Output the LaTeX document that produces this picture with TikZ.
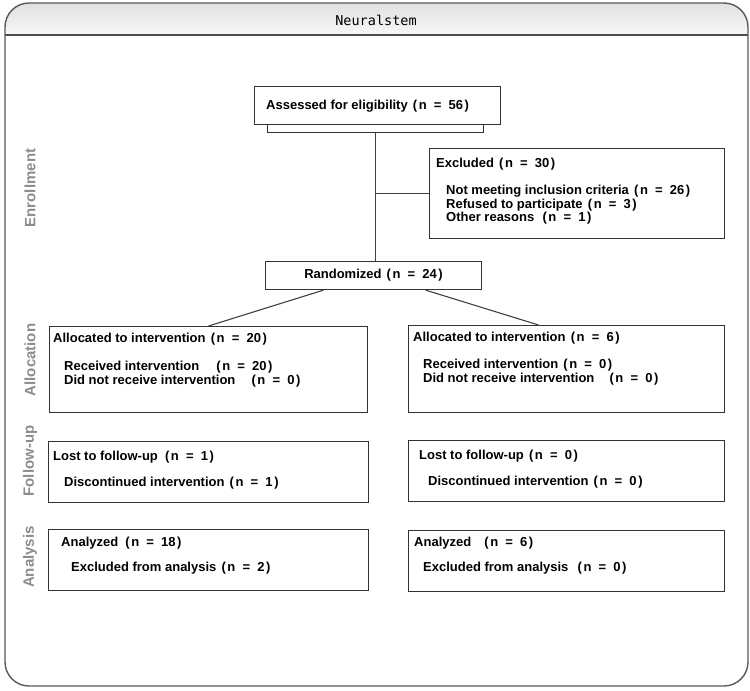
\documentclass[tikz,border=0pt]{standalone}
\usepackage{fontspec}
\setmainfont{Liberation Sans}
\newfontfamily\titlefont{DejaVu Sans Mono}
\usepackage{tikz}
\usetikzlibrary{positioning,calc}

% count in the wide bracket form used by the figure
\newcommand{\cnt}[2][0pt]{\hspace{#1}\hspace{.4em}(\hspace{.12em}n\hspace{.55em}=\hspace{.55em}#2\hspace{.12em})}

\begin{document}
\begin{tikzpicture}[x=1pt,y=-1pt]

  % Define styles
  \tikzset{boxnode/.style={draw=black!80, line width=1.1pt, rectangle, inner sep=0pt, anchor=north west},
    boxtext/.style={anchor=north west, inner sep=0pt, align=left, font=\fontsize{13}{13.5}\selectfont\bfseries},
    phase/.style={rotate=90, text=black!45, font=\fontsize{15}{17}\selectfont\bfseries},
    link/.style={draw=black!75, line width=1.1pt}}

  \useasboundingbox (0,0) rectangle (750,691);

  % Frame and header
  \begin{scope}
    \clip[rounded corners=24pt] (5,3) rectangle (748,686);
    \fill[top color=black!12, bottom color=black!3] (5,3) rectangle (748,35);
  \end{scope}
  \draw[black!65, line width=1.4pt, rounded corners=24pt] (5,3) rectangle (748,686);
  \draw[black!70, line width=1.4pt] (5,35) -- (748,35);
  \node[font=\titlefont\fontsize{13.5}{15}\selectfont] (title) at (376,20) {Neuralstem};

  % Phase labels
  \node[phase] (enrol) at (30,188) {Enrollment};
  \node[phase] (alloc) at (30,360) {Allocation};
  \node[phase] (follow) at (30,461) {Follow-up};
  \node[phase] (anal) at (30,557) {Analysis};

  % Boxes
  \node[boxnode, minimum width=216pt, minimum height=8pt] (assessbase) at (267,124) {};
  \node[boxnode, fill=white, minimum width=246pt, minimum height=38pt] (assess) at (254,86) {};
  \node[boxnode, minimum width=295pt, minimum height=90pt] (excl) at (429,148) {};
  \node[boxnode, minimum width=216pt, minimum height=28pt] (rand) at (265,261) {};
  \node[boxnode, minimum width=318pt, minimum height=86pt] (alloca) at (49,326) {};
  \node[boxnode, minimum width=316pt, minimum height=87pt] (allocb) at (408,325) {};
  \node[boxnode, minimum width=320pt, minimum height=61pt] (followa) at (48,441) {};
  \node[boxnode, minimum width=316pt, minimum height=61pt] (followb) at (408,440) {};
  \node[boxnode, minimum width=320pt, minimum height=61pt] (anala) at (48,529) {};
  \node[boxnode, minimum width=316pt, minimum height=61pt] (analb) at (408,530) {};

  % Texts
  \node[boxtext, anchor=west] (assesstxt) at (266,106) {Assessed for eligibility\cnt{56}};
  \node[boxtext] (excltxt) at (436,158) {Excluded\cnt{30}\\[13.5pt]
    \hspace*{10pt}Not meeting inclusion criteria\cnt{26}\\
    \hspace*{10pt}Refused to participate\cnt{3}\\
    \hspace*{10pt}Other reasons\cnt[3pt]{1}};
  \node[boxtext, anchor=center] (randtxt) at (rand.center) {Randomized\cnt{24}};
  \node[boxtext] (allocatxt) at (53,333) {Allocated to intervention\cnt{20}\\[14.5pt]
    \hspace*{11pt}Received intervention\cnt[12pt]{20}\\
    \hspace*{11pt}Did not receive intervention\cnt[11pt]{0}};
  \node[boxtext] (allocbtxt) at (413,332) {Allocated to intervention\cnt{6}\\[13.5pt]
    \hspace*{10pt}Received intervention\cnt{0}\\
    \hspace*{10pt}Did not receive intervention\cnt[10pt]{0}};
  \node[boxtext] (followatxt) at (53,451) {Lost to follow-up\cnt[2pt]{1}\\[12.5pt]
    \hspace*{11pt}Discontinued intervention\cnt{1}};
  \node[boxtext] (followbtxt) at (419,450) {Lost to follow-up\cnt{0}\\[12.5pt]
    \hspace*{9pt}Discontinued intervention\cnt{0}};
  \node[boxtext] (analatxt) at (61,537) {Analyzed\cnt[2pt]{18}\\[11pt]
    \hspace*{10pt}Excluded from analysis\cnt{2}};
  \node[boxtext] (analbtxt) at (414,537) {Analyzed\cnt[8pt]{6}\\[11pt]
    \hspace*{9pt}Excluded from analysis\cnt[4pt]{0}};

  % Connectors
  \coordinate (split) at (assessbase.south |- excl.west);
  \draw[link] (assessbase.south) -- (assessbase.south |- rand.north);
  \draw[link] (split) -- (excl.west);
  \draw[link] ([xshift=-50pt]rand.south) -- (alloca.north);
  \draw[link] ([xshift=52pt]rand.south) -- ([xshift=-28pt]allocb.north);

\end{tikzpicture}
\end{document}
